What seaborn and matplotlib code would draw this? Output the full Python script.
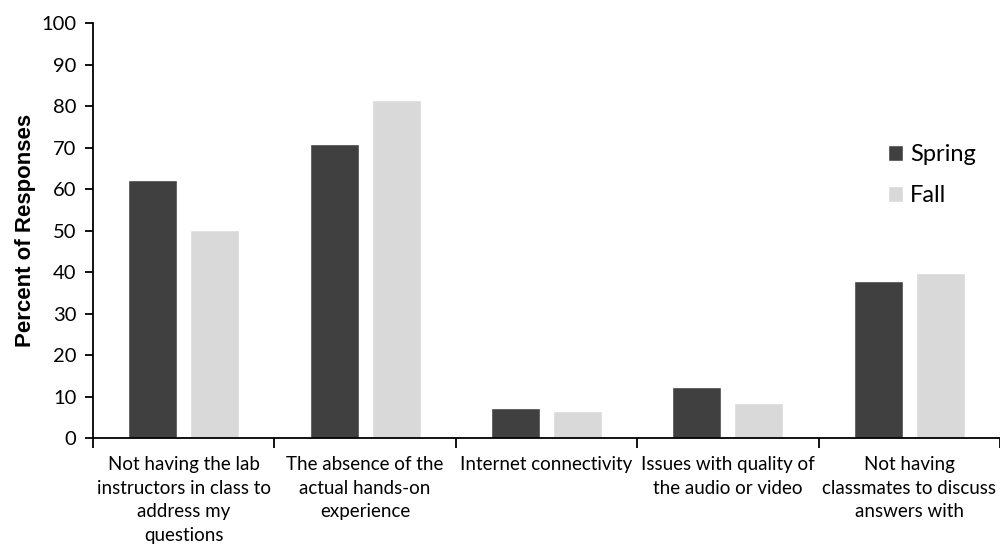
import matplotlib
matplotlib.use("Agg")
import matplotlib.pyplot as plt
import seaborn as sns
import pandas as pd

categories = [
    "Not having the lab\ninstructors in class to\naddress my\nquestions",
    "The absence of the\nactual hands-on\nexperience",
    "Internet connectivity",
    "Issues with quality of\nthe audio or video",
    "Not having\nclassmates to discuss\nanswers with",
]
spring = [62.3, 70.8, 7.3, 12.3, 37.8]
fall = [50.1, 81.4, 6.4, 8.4, 39.8]
seasons = ["Spring", "Fall"]
colors = ["#404040", "#d9d9d9"]
yticks = list(range(0, 101, 10))

df = pd.DataFrame({
    "category": categories * 2,
    "season": [seasons[0]] * len(categories) + [seasons[1]] * len(categories),
    "value": spring + fall,
})

sns.set_theme(style="white")
plt.rcParams["font.family"] = ["Lato", "DejaVu Sans"]
plt.rcParams["text.color"] = "black"
plt.rcParams["axes.labelcolor"] = "black"
plt.rcParams["xtick.color"] = "black"
plt.rcParams["ytick.color"] = "black"

fig = plt.figure(figsize=(10, 5.53), dpi=100)
ax = fig.add_axes([0.093, 0.208, 0.907, 0.750])

sns.barplot(data=df, x="category", y="value", hue="season", order=categories,
            hue_order=seasons, palette=colors, width=0.684, gap=0.21,
            saturation=1, ax=ax, legend=True)

ax.set_ylim(0, 100)
ax.set_xlim(-0.5, len(categories) - 0.5)
ax.set_yticks(yticks)
ax.set_yticklabels([str(t) for t in yticks], fontsize=14.5)

# category boundary ticks, labels centred under each group
ax.set_xticks([i - 0.5 for i in range(len(categories) + 1)])
ax.set_xticklabels([])
ax.set_xticks(range(len(categories)), minor=True)
ax.set_xticklabels(categories, minor=True, fontsize=13.5, linespacing=1.48)
ax.tick_params(axis="x", which="major", direction="out", length=7, width=1.3,
               color="black", bottom=True)
ax.tick_params(axis="x", which="minor", length=0, pad=13)
ax.tick_params(axis="y", direction="out", length=6, width=1.3, color="black",
               left=True, pad=6)

for side in ["top", "right"]:
    ax.spines[side].set_visible(False)
for side in ["left", "bottom"]:
    ax.spines[side].set_color("black")
    ax.spines[side].set_linewidth(1.3)

ax.set_xlabel("")
ax.set_ylabel("Percent of Responses", fontsize=16, fontweight="bold",
              family="Liberation Sans", labelpad=4)

ax.legend(title=None, frameon=False, loc="upper left",
          bbox_to_anchor=(0.853, 0.76), fontsize=17, handlelength=0.65,
          handleheight=0.65, handletextpad=0.3, labelspacing=0.85)

fig.savefig("out.png", dpi=100)
